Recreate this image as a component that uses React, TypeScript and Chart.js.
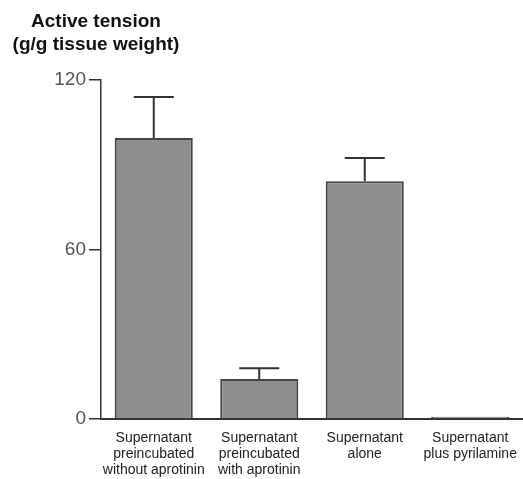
import React, { useEffect, useRef } from "react";
import { Chart, registerables } from "chart.js";

Chart.register(...registerables);

const categories: string[][] = [
  ["Supernatant", "preincubated", "without aprotinin"],
  ["Supernatant", "preincubated", "with aprotinin"],
  ["Supernatant", "alone"],
  ["Supernatant", "plus pyrilamine"],
];
const meanTension: number[] = [99.5, 14.2, 84.2, 0.8];
const errorTop: number[] = [114, 18, 92.4, 1.2];
const yTicks: number[] = [0, 60, 120];
const yTitle: string[] = ["Active tension", "(g/g tissue weight)"];

const errorBarPlugin = {
  id: "errorBars",
  afterDatasetsDraw(chart: any) {
    const { ctx, scales } = chart;
    const meta = chart.getDatasetMeta(0);
    ctx.save();
    ctx.strokeStyle = "#333";
    ctx.lineWidth = 2;
    meta.data.forEach((bar: any, i: number) => {
      if (i === 3) return;
      const x = bar.x;
      const yBase = scales.y.getPixelForValue(meanTension[i]);
      const yTop = scales.y.getPixelForValue(errorTop[i]);
      const half = 20;
      ctx.beginPath();
      ctx.moveTo(x, yBase);
      ctx.lineTo(x, yTop);
      ctx.moveTo(x - half, yTop);
      ctx.lineTo(x + half, yTop);
      ctx.stroke();
    });
    ctx.restore();
  },
};

export default function App() {
  const ref = useRef<HTMLCanvasElement | null>(null);
  useEffect(() => {
    if (!ref.current) return;
    const chart = new Chart(ref.current, {
      type: "bar",
      data: {
        labels: categories,
        datasets: [
          {
            data: meanTension,
            backgroundColor: "#8e8e8e",
            borderColor: "#444",
            borderWidth: 2,
            borderSkipped: "bottom",
            barPercentage: 0.74,
            categoryPercentage: 1,
          },
        ],
      },
      options: {
        animation: false,
        responsive: false,
        maintainAspectRatio: false,
        layout: { padding: { top: 80, right: 0, left: 0, bottom: 0 } },
        plugins: { legend: { display: false }, tooltip: { enabled: false } },
        scales: {
          x: {
            grid: { display: false, drawTicks: false },
            border: { display: true, color: "#333", width: 2 },
            ticks: {
              color: "#222",
              font: { family: "Liberation Sans", size: 14, lineHeight: 1.15 },
              padding: 11,
              maxRotation: 0,
              autoSkip: false,
            },
            afterFit: (axis: any) => {
              axis.height = 60;
              axis.paddingLeft = 0;
              axis.paddingRight = 0;
            },
          },
          y: {
            min: 0,
            max: 120,
            afterBuildTicks: (axis: any) => {
              axis.ticks = yTicks.map((v) => ({ value: v }));
            },
            grid: { drawOnChartArea: false, drawTicks: true, tickLength: 12, color: "#333", lineWidth: 1.5 },
            border: { display: true, color: "#333", width: 1.5 },
            ticks: {
              color: "#555",
              font: { family: "Liberation Sans", size: 19 },
              padding: 3,
            },
            afterFit: (axis: any) => {
              axis.width = 101;
            },
          },
        },
      },
      plugins: [errorBarPlugin],
    });
    return () => chart.destroy();
  }, []);
  return (
    <div style={{ position: "fixed", left: 0, top: 0, width: 523, height: 479, background: "#fff" }}>
      <div
        style={{
          position: "absolute",
          left: 0,
          top: 9,
          width: 192,
          textAlign: "center",
          fontFamily: "Liberation Sans, Arial, sans-serif",
          fontWeight: "bold",
          fontSize: 19,
          lineHeight: "23px",
          color: "#111",
          whiteSpace: "nowrap",
        }}
      >
        {yTitle.map((t) => (
          <div key={t}>{t}</div>
        ))}
      </div>
      <canvas ref={ref} width={523} height={479} style={{ display: "block" }} />
    </div>
  );
}
